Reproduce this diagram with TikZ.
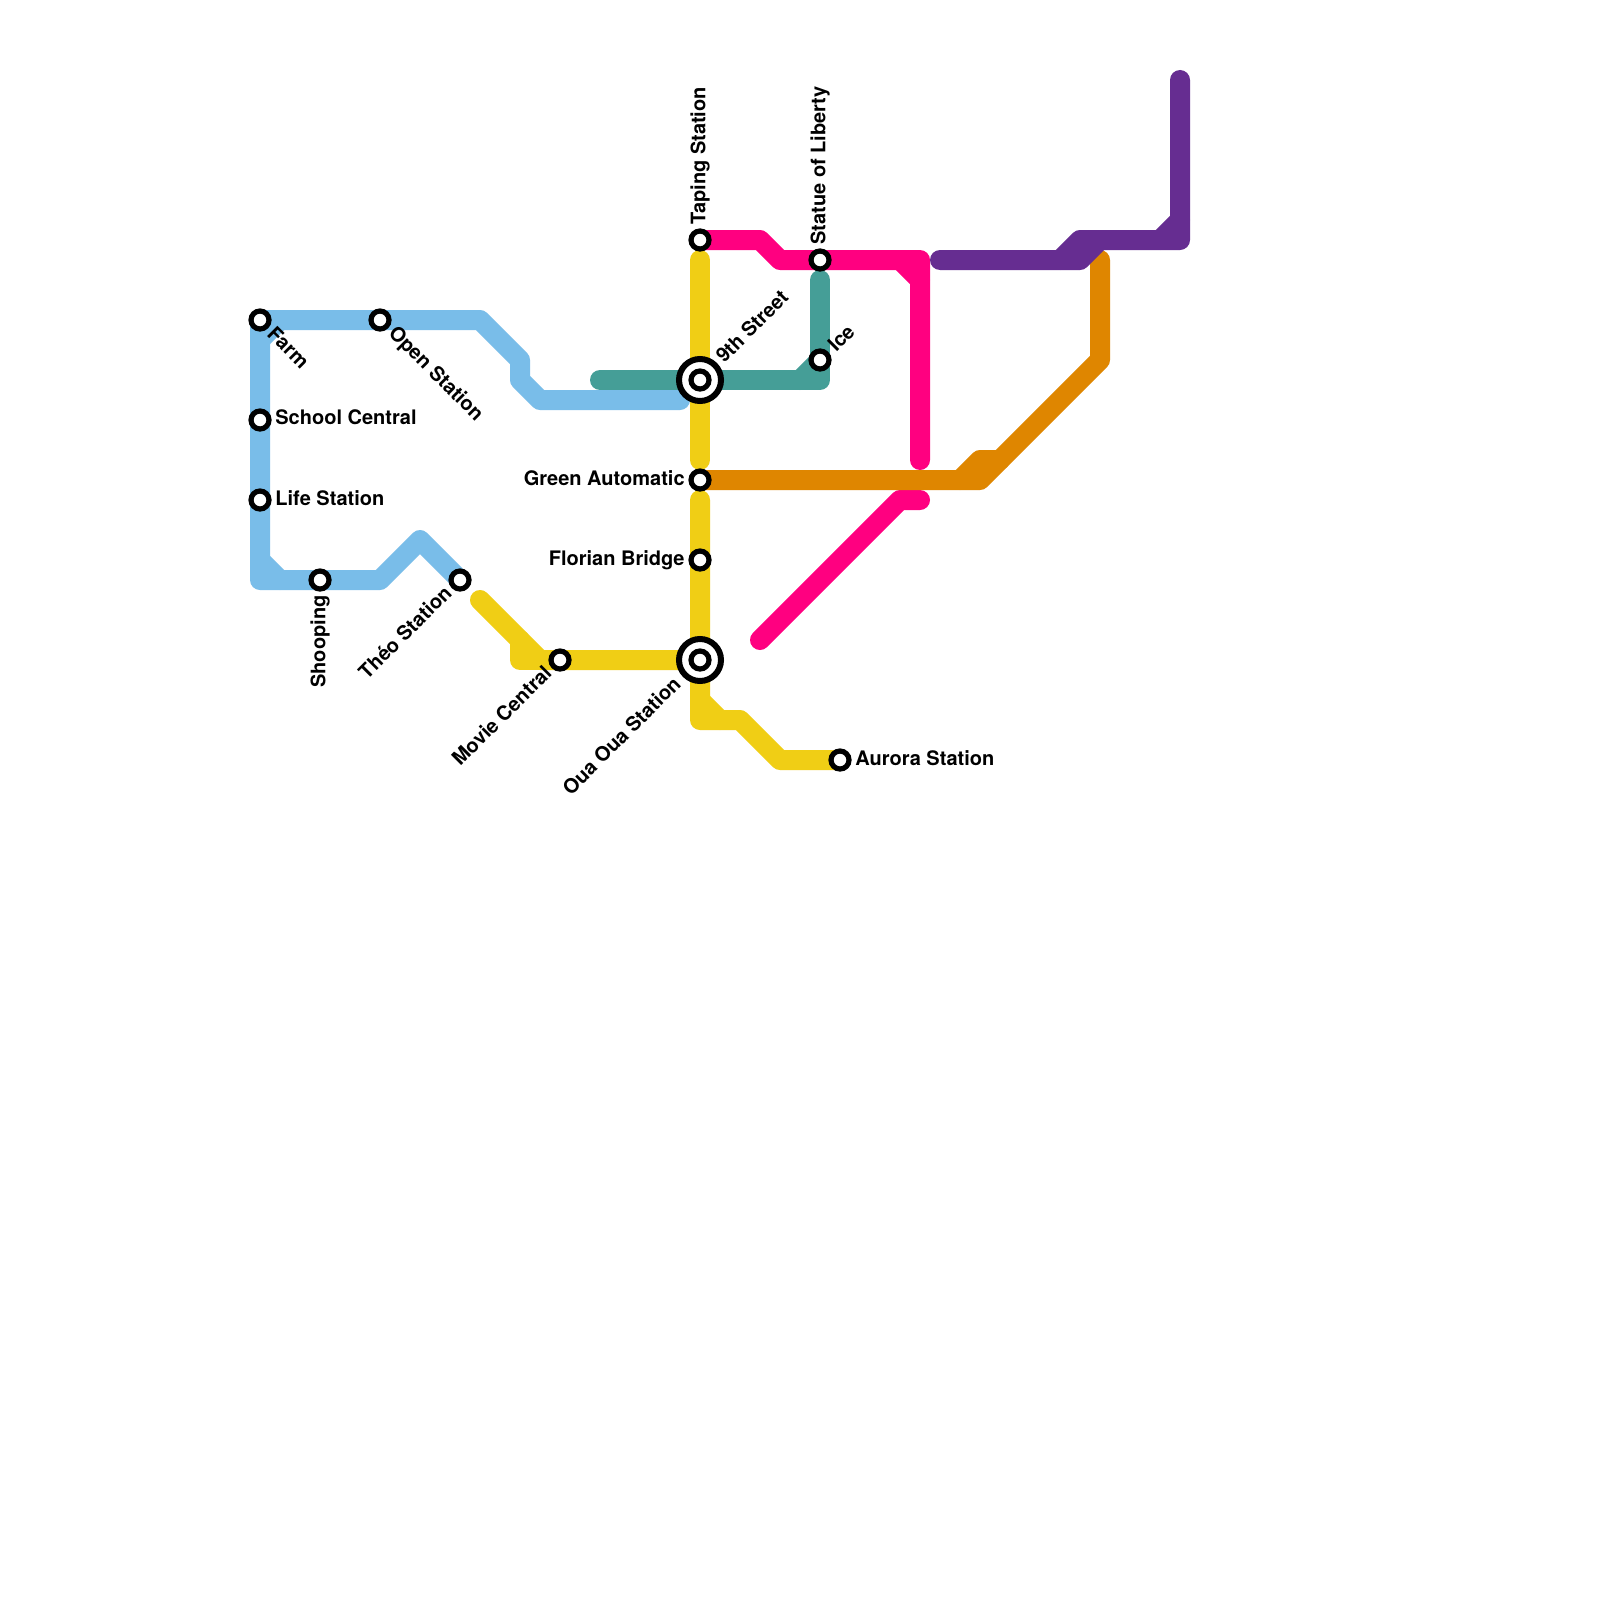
\documentclass[tikz,border=0pt]{standalone}
\usepackage{fontspec}
\setmainfont{TeX Gyre Heros}
\definecolor{lblue}{HTML}{79BDE9}
\definecolor{lyellow}{HTML}{F0CE15}
\definecolor{lteal}{HTML}{459E97}
\definecolor{lpink}{HTML}{FF0080}
\definecolor{lorange}{HTML}{DF8600}
\definecolor{lpurple}{HTML}{662D91}
\tikzset{
 metro/.style={line width=10pt,line cap=round,line join=round},
 stop/.style={circle,draw=black,fill=white,line width=2.6pt,minimum size=9pt,inner sep=0pt},
 hubring/.style={circle,draw=black,fill=white,line width=3pt,minimum size=21pt,inner sep=0pt},
 lab/.style={font=\bfseries\fontsize{10}{12}\selectfont,inner sep=0pt,text=black},
}
\begin{document}
\begin{tikzpicture}[x=0.5pt,y=-0.5pt]
\useasboundingbox (0,0) rectangle (1600,1600);
\fill[white] (0,0) rectangle (1600,1600);
% station positions
\coordinate (farm) at (260,320);
\coordinate (open) at (380,320);
\coordinate (school) at (260,420);
\coordinate (life) at (260,500);
\coordinate (shoop) at (320,580);
\coordinate (theo) at (460,580);
\coordinate (taping) at (700,240);
\coordinate (statue) at (820,260);
\coordinate (ice) at (820,360);
\coordinate (ninth) at (700,380);
\coordinate (green) at (700,480);
\coordinate (florian) at (700,560);
\coordinate (movie) at (560,660);
\coordinate (oua) at (700,660);
\coordinate (aurora) at (840,760);
% blue
\draw[metro,lblue] (680,400) -- (540,400) -- (520,380) -- (520,360) -- (480,320) -- (open) -- (farm) -- (school) -- (life) -- (260,580) -- (shoop) -- (380,580) -- (420,540) -- (theo);
\draw[metro,lblue] (260,340) -- (280,320);
\draw[metro,lblue] (260,560) -- (280,580);
% yellow
\draw[metro,lyellow] (700,260) -- (ninth) -- (700,460);
\draw[metro,lyellow] (700,500) -- (florian) -- (oua) -- (700,720) -- (740,720) -- (780,760) -- (aurora);
\draw[metro,lyellow] (700,700) -- (720,720);
\draw[metro,lyellow] (480,600) -- (540,660) -- (movie) -- (oua);
\draw[metro,lyellow] (520,640) -- (520,660) -- (540,660);
% teal
\draw[metro,lteal] (600,380) -- (ninth) -- (820,380) -- (ice) -- (820,280);
\draw[metro,lteal] (800,380) -- (ice);
% pink
\draw[metro,lpink] (taping) -- (760,240) -- (780,260) -- (statue) -- (920,260) -- (920,460);
\draw[metro,lpink] (900,260) -- (920,280);
\draw[metro,lpink] (760,640) -- (900,500) -- (920,500);
% orange
\draw[metro,lorange] (green) -- (980,480) -- (1100,360) -- (1100,260);
\draw[metro,lorange] (960,480) -- (980,460) -- (1000,460);
% purple
\draw[metro,lpurple] (940,260) -- (1080,260) -- (1100,240) -- (1180,240) -- (1180,80);
\draw[metro,lpurple] (1060,260) -- (1080,240) -- (1100,240);
\draw[metro,lpurple] (1160,240) -- (1180,220);
% stations
\foreach \s in {farm,open,school,life,shoop,theo,taping,statue,ice,green,florian,movie,aurora}
  \node[stop] (st\s) at (\s) {};
\node[hubring] (hubA) at (ninth) {};
\node[stop] (stninth) at (ninth) {};
\node[hubring] (hubB) at (oua) {};
\node[stop] (stoua) at (oua) {};
% labels
\node[lab,anchor=west,rotate=-45] (lfarm) at (271,330) {Farm};
\node[lab,anchor=west,rotate=-45] (lopen) at (391,330) {Open Station};
\node[lab,anchor=west] (lschool) at (275,417) {School Central};
\node[lab,anchor=west] (llife) at (275,498) {Life Station};
\node[lab,anchor=east,rotate=90] (lshoop) at (320,595) {Shooping};
\node[lab,anchor=east,rotate=45] (ltheo) at (448,589) {Théo Station};
\node[lab,anchor=west,rotate=90] (ltaping) at (700,225) {Taping Station};
\node[lab,anchor=west,rotate=90] (lstatue) at (820,245) {Statue of Liberty};
\node[lab,anchor=west,rotate=45] (lninth) at (719,359) {9th Street};
\node[lab,anchor=west,rotate=45] (lice) at (831,348) {Ice};
\node[lab,anchor=east] (lgreen) at (685,478) {Green Automatic};
\node[lab,anchor=east] (lflorian) at (685,560) {Florian Bridge};
\node[lab,anchor=east,rotate=45] (lmovie) at (548,669) {Movie Central};
\node[lab,anchor=east,rotate=45] (loua) at (677,680) {Oua Oua Station};
\node[lab,anchor=west] (laurora) at (855,758) {Aurora Station};
\end{tikzpicture}
\end{document}
